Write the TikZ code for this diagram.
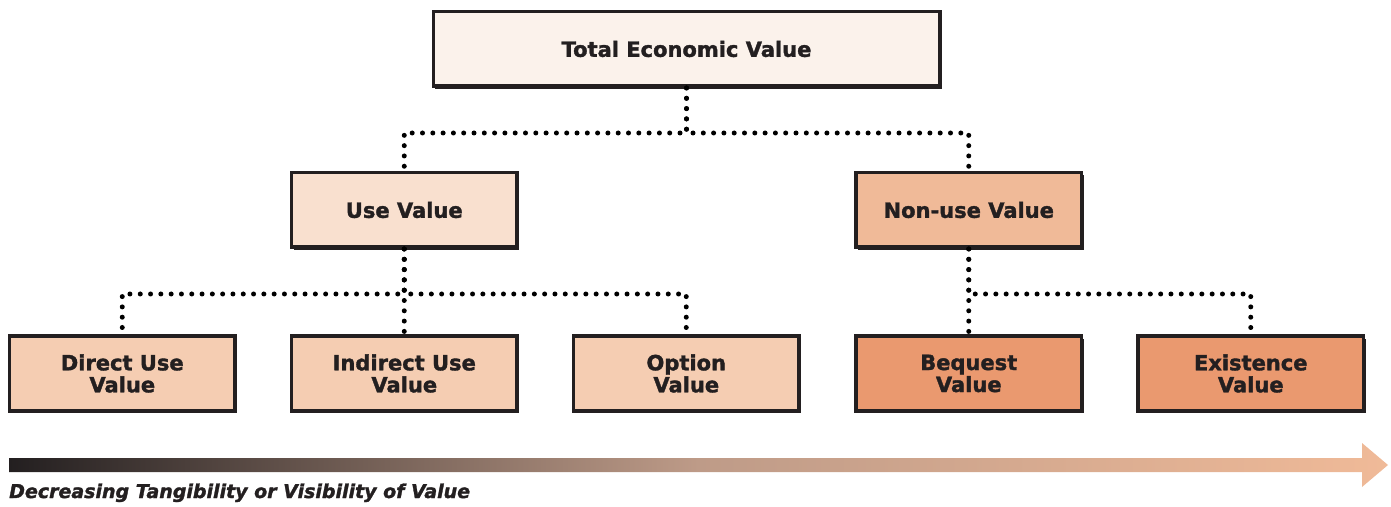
\documentclass[tikz,border=0pt]{standalone}
\usepackage{fontspec}
\setmainfont{DejaVu Sans}[BoldFeatures={FakeBold=1.6}, BoldItalicFeatures={FakeBold=1.6}]
\usepackage{xcolor}
\definecolor{inkblack}{RGB}{35,31,32}
\definecolor{palepeach}{RGB}{251,242,235}
\definecolor{lightpeach}{RGB}{249,224,207}
\definecolor{midpeach}{RGB}{245,205,178}
\definecolor{deeppeach}{RGB}{240,186,152}
\definecolor{darkpeach}{RGB}{234,153,111}
\definecolor{midbrown}{RGB}{190,155,136}
\usepackage{tikz}
\usetikzlibrary{trees,shadows}
\tikzstyle{valuebox} = [shape=rectangle, solid, line width=3.5pt, draw=inkblack, text=inkblack, align=center, inner sep=0pt, minimum width=225.5pt, minimum height=74.5pt, font=\bfseries\fontsize{21}{22}\selectfont, drop shadow={shadow xshift=2pt, shadow yshift=-2.5pt, fill=inkblack, opacity=1}]
\tikzstyle{total} = [valuebox, minimum width=506.5pt, fill=palepeach]
\tikzstyle{usebox} = [valuebox, fill=lightpeach]
\tikzstyle{nonusebox} = [valuebox, fill=deeppeach]
\tikzstyle{usekind} = [valuebox, fill=midpeach]
\tikzstyle{nonusekind} = [valuebox, fill=darkpeach]
\tikzstyle{dotline} = [draw=black, line width=5pt, line cap=round, dash pattern=on 0pt off 10.3pt]

\begin{document}
\begin{tikzpicture}[
    x=1pt, y=1pt,
    level 1/.style={level distance=161pt, sibling distance=564.5pt},
    level 2/.style={level distance=163.5pt, sibling distance=282pt},
    edge from parent/.style={dotline},
    edge from parent path={(\tikzparentnode.south) -- ++(0,-45pt) -| (\tikzchildnode.north)}
]
  \useasboundingbox (0,0) rectangle (1391,506);
  \node[total] (tev) at (686.5,457) {Total Economic Value}
    child { node[usebox] (uv) {Use Value}
      child { node[usekind] (duv) {Direct Use\\Value}}
      child { node[usekind] (iuv) {Indirect Use\\Value}}
      child { node[usekind] (ov) {Option\\Value}}
    }
    child { node[nonusebox] (nuv) {Non-use Value}
      child[missing]
      child { node[nonusekind] (bv) {Bequest\\Value}}
      child { node[nonusekind] (ev) {Existence\\Value}}
    };

  % tangibility arrow
  \shade[left color=inkblack, right color=deeppeach, middle color=midbrown]
    (9,34) -- (1362,34) -- (1362,19) -- (1388,41) -- (1362,63) -- (1362,48) -- (9,48) -- cycle;
  \node[anchor=base west, inner sep=0pt, text=inkblack, font=\bfseries\itshape\fontsize{19}{22}\selectfont] (caption) at (9,8) {Decreasing Tangibility or Visibility of Value};
\end{tikzpicture}
\end{document}
